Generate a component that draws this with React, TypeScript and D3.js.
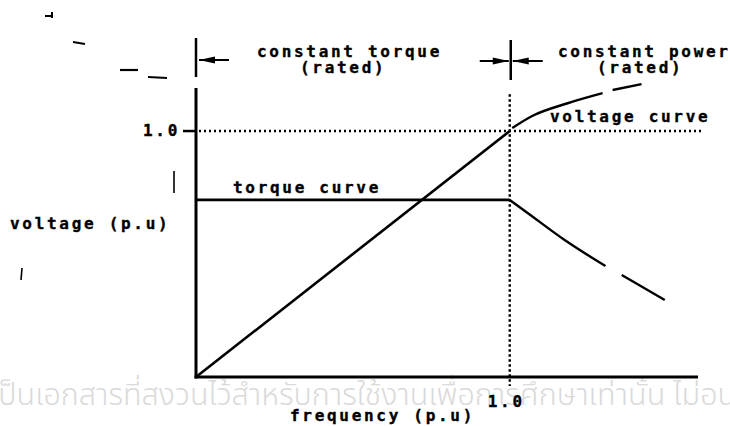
import React from "react";
import * as d3 from "d3";

// frequency / voltage / torque values in per-unit
const freqTicks = [1.0];
const voltTicks = [1.0];
const voltageRise: [number, number][] = [[0, 0], [1, 1]];
const voltageAbove: [number, number][] = [[1.008, 1.012], [1.073, 1.062], [1.182, 1.112], [1.296, 1.154]];
const voltageAboveTail: [number, number][] = [[1.328, 1.167], [1.42, 1.191]];
const torqueFlat: [number, number][] = [[0, 0.72], [1, 0.72]];
const torqueFall: [number, number][] = [[1, 0.72], [1.057, 0.667], [1.175, 0.557], [1.305, 0.451]];
const torqueFallTail: [number, number][] = [[1.357, 0.415], [1.494, 0.313]];

const watermark = "เป็นเอกสารที่สงวนไว้สำหรับการใช้งานเพื่อการศึกษาเท่านั้น ไม่อนุญาตให้นำไปใช้ในเชิงพาณิชย์";

const W = 730;
const H = 426;

const x = d3.scaleLinear().domain([0, 1.6]).range([196, 698]);
const y = d3.scaleLinear().domain([0, 1.175]).range([377, 88]);

const straight = d3.line<[number, number]>().x((d) => x(d[0])).y((d) => y(d[1]));
const smooth = d3
  .line<[number, number]>()
  .x((d) => x(d[0]))
  .y((d) => y(d[1]))
  .curve(d3.curveMonotoneX);

const font = "'DejaVu Sans Mono', monospace";

function Label({ x: lx, y: ly, children }: { x: number; y: number; children: React.ReactNode }) {
  return (
    <text
      x={lx}
      y={ly}
      fontFamily={font}
      fontWeight="bold"
      fontSize={16}
      letterSpacing={2.7}
      fill="#000"
      stroke="#000"
      strokeWidth={0.35}
    >
      {children}
    </text>
  );
}

export default function App() {
  const ink = "#000";
  const x1 = x(1);
  const y1 = y(1);
  const yTop = y(1.175);
  return (
    <svg
      width={W}
      height={H}
      viewBox={`0 0 ${W} ${H}`}
      style={{ position: "absolute", left: 0, top: 0, background: "#fff" }}
    >
      {/* watermark */}
      <text
        x={-10}
        y={405}
        fontFamily="'Noto Sans Thai', 'Noto Sans', sans-serif"
        fontSize={30.5}
        fontWeight={300}
        fill="#dadada"
      >
        {watermark}
      </text>

      {/* axes */}
      <line x1={x(0)} x2={x(0)} y1={yTop} y2={y(0) + 1.5} stroke={ink} strokeWidth={3} />
      <line x1={x(0) - 1.5} x2={x(1.6)} y1={y(0)} y2={y(0)} stroke={ink} strokeWidth={3} />

      {/* y tick + label */}
      {voltTicks.map((v) => (
        <g key={"yt" + v}>
          <line x1={x(0) - 13} x2={x(0)} y1={y(v)} y2={y(v)} stroke={ink} strokeWidth={2.5} />
          <Label x={143} y={y(v) + 5}>{v.toFixed(1)}</Label>
        </g>
      ))}
      {/* x tick label */}
      {freqTicks.map((f) => (
        <Label key={"xt" + f} x={x(f) - 22} y={407}>
          {f.toFixed(1)}
        </Label>
      ))}

      {/* dotted reference lines at rated values */}
      <line
        x1={x(0) + 3}
        x2={x(1.613)}
        y1={y1}
        y2={y1}
        stroke={ink}
        strokeWidth={2.4}
        strokeDasharray="2 3"
      />
      <line
        x1={x1}
        x2={x1}
        y1={y(1.15)}
        y2={y(0) + 9}
        stroke={ink}
        strokeWidth={2.4}
        strokeDasharray="2.5 2.5"
      />

      {/* voltage curve */}
      <path d={straight(voltageRise) ?? ""} fill="none" stroke={ink} strokeWidth={2.6} />
      <path d={smooth(voltageAbove) ?? ""} fill="none" stroke={ink} strokeWidth={2.4} />
      <path d={smooth(voltageAboveTail) ?? ""} fill="none" stroke={ink} strokeWidth={2.4} />

      {/* torque curve */}
      <path d={straight(torqueFlat) ?? ""} fill="none" stroke={ink} strokeWidth={2.6} />
      <path d={smooth(torqueFall) ?? ""} fill="none" stroke={ink} strokeWidth={2.4} />
      <path d={smooth(torqueFallTail) ?? ""} fill="none" stroke={ink} strokeWidth={2.4} />

      {/* region brackets */}
      <line x1={x(0)} x2={x(0)} y1={38} y2={77} stroke={ink} strokeWidth={2.5} />
      <line x1={x(0) + 3} x2={x(0) + 33} y1={60} y2={60} stroke={ink} strokeWidth={2} />
      <path d={`M${x(0) + 3},60 L${x(0) + 19},56.5 L${x(0) + 19},63.5 Z`} fill={ink} />

      <line x1={x1 + 1} x2={x1 + 1} y1={40} y2={80} stroke={ink} strokeWidth={2.5} />
      <line x1={x1 - 30} x2={x1 - 1} y1={61} y2={61} stroke={ink} strokeWidth={2} />
      <path d={`M${x1 - 1},61 L${x1 - 17},57.5 L${x1 - 17},64.5 Z`} fill={ink} />
      <line x1={x1 + 3} x2={x1 + 33} y1={61} y2={61} stroke={ink} strokeWidth={2} />
      <path d={`M${x1 + 3},61 L${x1 + 19},57.5 L${x1 + 19},64.5 Z`} fill={ink} />

      {/* small leader marks near the top-left */}
      <path d="M45,16 L52,16 M52,12 L52,18" stroke={ink} strokeWidth={2} fill="none" />
      <path d="M73,42 L85,44" stroke={ink} strokeWidth={1.8} fill="none" />
      <path d="M120,70 L138,70" stroke={ink} strokeWidth={2.2} fill="none" />
      <path d="M148,77 L167,78" stroke={ink} strokeWidth={2} fill="none" />
      <path d="M174,171 L174,193" stroke={ink} strokeWidth={1.6} fill="none" />
      <path d="M22,268 L21,280" stroke={ink} strokeWidth={1.6} fill="none" />

      {/* text */}
      <Label x={257} y={57}>constant torque</Label>
      <Label x={300} y={73}>(rated)</Label>
      <Label x={558} y={57}>constant power</Label>
      <Label x={597} y={73}>(rated)</Label>
      <Label x={550} y={122}>voltage curve</Label>
      <Label x={233} y={193}>torque curve</Label>
      <Label x={10} y={229}>voltage (p.u)</Label>
      <Label x={290} y={421}>frequency (p.u)</Label>
    </svg>
  );
}
